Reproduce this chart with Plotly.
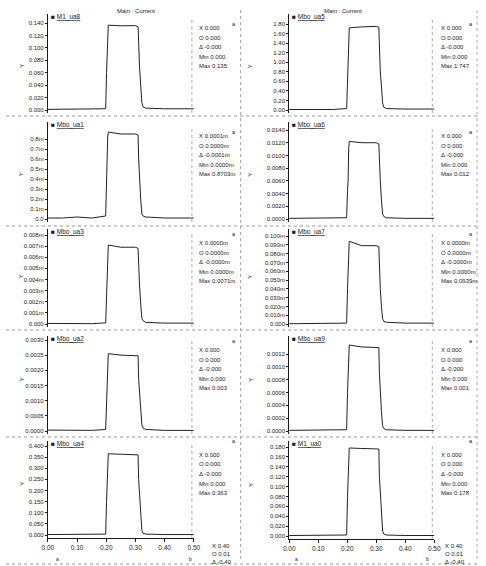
import plotly.graph_objects as go

# ---------------- data ----------------
t = [0.000, 0.050, 0.100, 0.150, 0.198, 0.201, 0.203, 0.205, 0.207, 0.250,
     0.300, 0.309, 0.311, 0.314, 0.318, 0.322, 0.326, 0.335, 0.400, 0.500]

m1_ua8 = [0.001, 0.001, 0.0008, 0.0008, 0.002, 0.060, 0.090, 0.128, 0.1365, 0.1355,
          0.1358, 0.134, 0.095, 0.070, 0.040, 0.012, 0.005, 0.003, 0.002, 0.002]
mbo_ua5 = [0.01, 0.01, 0.01, 0.01, 0.03, 0.60, 0.85, 1.65, 1.72, 1.74,
           1.75, 1.73, 1.20, 0.80, 0.50, 0.15, 0.06, 0.03, 0.02, 0.02]
mbo_ua1 = [0.00001, 0.00001, 0.00002, 0.00001, 0.00003, 0.00045, 0.00060, 0.00082, 0.00087, 0.00085,
           0.00085, 0.00084, 0.00060, 0.00040, 0.00020, 0.00005, 0.00003, 0.00002, 0.00001, 0.00001]
mbo_ua6 = [0.0001, 0.0001, 0.0001, 0.0001, 0.0002, 0.0045, 0.0060, 0.0110, 0.0122, 0.0120,
           0.0120, 0.0118, 0.0080, 0.0060, 0.0030, 0.0008, 0.0004, 0.0002, 0.0001, 0.0001]
mbo_ua3 = [0.05e-6, 0.05e-6, 0.03e-6, 0.03e-6, 0.1e-6, 3.0e-6, 4.5e-6, 6.6e-6, 7.1e-6, 6.9e-6,
           6.9e-6, 6.8e-6, 5.0e-6, 3.5e-6, 1.8e-6, 0.5e-6, 0.3e-6, 0.15e-6, 0.08e-6, 0.08e-6]
mbo_ua7 = [0.3e-6, 0.3e-6, 0.3e-6, 0.3e-6, 1e-6, 40e-6, 60e-6, 85e-6, 94e-6, 89e-6,
           89e-6, 88e-6, 60e-6, 40e-6, 20e-6, 6e-6, 3e-6, 2e-6, 1e-6, 1e-6]
mbo_ua2 = [0.00003, 0.00003, 0.00002, 0.00002, 0.00005, 0.0012, 0.0017, 0.0024, 0.00255, 0.0025,
           0.0025, 0.00248, 0.0017, 0.0013, 0.0008, 0.0002, 0.0001, 0.00005, 0.00002, 0.00002]
mbo_ua9 = [0.00001, 0.00001, 0.00001, 0.00001, 0.00002, 0.0006, 0.0009, 0.00125, 0.00134, 0.00131,
           0.00131, 0.0013, 0.0009, 0.0006, 0.0003, 0.00008, 0.00004, 0.00002, 0.00001, 0.00001]
mbo_ua4 = [0.002, 0.002, 0.002, 0.002, 0.004, 0.150, 0.250, 0.350, 0.365, 0.363,
           0.363, 0.360, 0.250, 0.180, 0.090, 0.020, 0.008, 0.004, 0.002, 0.002]
m1_ua0 = [0.001, 0.001, 0.001, 0.001, 0.002, 0.080, 0.120, 0.170, 0.178, 0.177,
          0.177, 0.176, 0.120, 0.090, 0.045, 0.010, 0.004, 0.002, 0.001, 0.001]

names = ["M1_ua8", "Mbo_ua5", "Mbo_ua1", "Mbo_ua6", "Mbo_ua3",
         "Mbo_ua7", "Mbo_ua2", "Mbo_ua9", "Mbo_ua4", "M1_ua0"]

tick_p1 = [0.0, 0.02, 0.04, 0.06, 0.08, 0.10, 0.12, 0.14]
lab_p1 = ["0.000", "0.020", "0.040", "0.060", "0.080", "0.100", "0.120", "0.140"]
tick_p2 = [0.0, 0.2, 0.4, 0.6, 0.8, 1.0, 1.2, 1.4, 1.6, 1.8]
lab_p2 = ["0.00", "0.20", "0.40", "0.60", "0.80", "1.00", "1.20", "1.40", "1.60", "1.80"]
tick_p3 = [0.0, 0.0001, 0.0002, 0.0003, 0.0004, 0.0005, 0.0006, 0.0007, 0.0008]
lab_p3 = ["0.0", "0.1m", "0.2m", "0.3m", "0.4m", "0.5m", "0.6m", "0.7m", "0.8m"]
tick_p4 = [0.0, 0.002, 0.004, 0.006, 0.008, 0.010, 0.012, 0.014]
lab_p4 = ["0.0000", "0.0020", "0.0040", "0.0060", "0.0080", "0.0100", "0.0120", "0.0140"]
tick_p5 = [0.0, 1e-6, 2e-6, 3e-6, 4e-6, 5e-6, 6e-6, 7e-6, 8e-6]
lab_p5 = ["0.000", "0.001m", "0.002m", "0.003m", "0.004m", "0.005m", "0.006m", "0.007m", "0.008m"]
tick_p6 = [0.0, 1e-5, 2e-5, 3e-5, 4e-5, 5e-5, 6e-5, 7e-5, 8e-5, 9e-5, 1e-4]
lab_p6 = ["0.000", "0.010m", "0.020m", "0.030m", "0.040m", "0.050m", "0.060m",
          "0.070m", "0.080m", "0.090m", "0.100m"]
tick_p7 = [0.0, 0.0005, 0.0010, 0.0015, 0.0020, 0.0025, 0.0030]
lab_p7 = ["0.0000", "0.0005", "0.0010", "0.0015", "0.0020", "0.0025", "0.0030"]
tick_p8 = [0.0, 0.0002, 0.0004, 0.0006, 0.0008, 0.0010, 0.0012]
lab_p8 = ["0.0000", "0.0002", "0.0004", "0.0006", "0.0008", "0.0010", "0.0012"]
tick_p9 = [0.0, 0.05, 0.10, 0.15, 0.20, 0.25, 0.30, 0.35, 0.40]
lab_p9 = ["0.000", "0.050", "0.100", "0.150", "0.200", "0.250", "0.300", "0.350", "0.400"]
tick_p10 = [0.0, 0.02, 0.04, 0.06, 0.08, 0.10, 0.12, 0.14, 0.16, 0.18]
lab_p10 = ["0.000", "0.020", "0.040", "0.060", "0.080", "0.100", "0.120", "0.140", "0.160", "0.180"]

x_ticks = [0.0, 0.1, 0.2, 0.3, 0.4, 0.5]
x_labels = ["0.00", "0.10", "0.20", "0.30", "0.40", "0.50"]

readouts = [
    ["X 0.000", "O 0.000", "Δ -0.000", "Min 0.000", "Max 0.135"],
    ["X 0.000", "O 0.000", "Δ -0.000", "Min 0.000", "Max 1.747"],
    ["X 0.0001m", "O 0.0000m", "Δ -0.0001m", "Min 0.0000m", "Max 0.8703m"],
    ["X 0.000", "O 0.000", "Δ -0.000", "Min 0.000", "Max 0.012"],
    ["X 0.0000m", "O 0.0000m", "Δ -0.0000m", "Min 0.0000m", "Max 0.0071m"],
    ["X 0.0000m", "O 0.0000m", "Δ -0.0000m", "Min 0.0000m", "Max 0.0939m"],
    ["X 0.000", "O 0.000", "Δ -0.000", "Min 0.000", "Max 0.003"],
    ["X 0.000", "O 0.000", "Δ -0.000", "Min 0.000", "Max 0.001"],
    ["X 0.000", "O 0.000", "Δ -0.000", "Min 0.000", "Max 0.363"],
    ["X 0.000", "O 0.000", "Δ -0.000", "Min 0.000", "Max 0.178"],
]
cursor_text = ["X 0.40", "O 0.01", "Δ -0.40"]

series = [m1_ua8, mbo_ua5, mbo_ua1, mbo_ua6, mbo_ua3, mbo_ua7, mbo_ua2, mbo_ua9, mbo_ua4, m1_ua0]
ticks = [tick_p1, tick_p2, tick_p3, tick_p4, tick_p5, tick_p6, tick_p7, tick_p8, tick_p9, tick_p10]
labels = [lab_p1, lab_p2, lab_p3, lab_p4, lab_p5, lab_p6, lab_p7, lab_p8, lab_p9, lab_p10]

# ---------------- layout geometry (pixels) ----------------
W, H = 486, 566
FONT = "Liberation Sans"
NARROW = "Liberation Sans Narrow, Liberation Sans"
INK = "#1a1a1a"
col_x = [(43, 193), (291, 440)]
# (zero pixel, top-tick pixel, domain top pixel) for each panel
geom = [
    (110, 23, 14), (110, 24, 14),
    (219, 139, 122), (219, 130, 122),
    (324, 235, 229), (324, 236, 229),
    (431, 340, 336), (431, 354, 336),
    (535, 446, 441), (536, 447, 441),
]

def px(x):
    return x / W

def py(y):
    return 1 - y / H

fig = go.Figure()
annotations = []
shapes = []

for i in range(10):
    col = i % 2
    row = i // 2
    n = i + 1
    xa = "x" if n == 1 else f"x{n}"
    ya = "y" if n == 1 else f"y{n}"
    fig.add_trace(go.Scatter(x=t, y=series[i], mode="lines",
                             line=dict(color="#222", width=1),
                             xaxis=xa, yaxis=ya, showlegend=False, hoverinfo="skip"))
    zero_px, tt_px, top_px = geom[i]
    bot_px = zero_px + 3
    T = ticks[i][-1]
    s = T / (zero_px - tt_px)
    rmin = -(bot_px - zero_px) * s
    rmax = T + (tt_px - top_px) * s
    x0, x1 = col_x[col]
    last = row == 4
    fig.layout[f"xaxis{'' if n == 1 else n}"] = dict(
        domain=[px(x0), px(x1)], range=[0, 0.5], anchor=ya,
        showgrid=False, zeroline=False,
        showline=last, linecolor=INK, linewidth=1,
        tickvals=x_ticks, ticktext=x_labels, showticklabels=last,
        ticks="outside" if last else "", ticklen=3, tickcolor=INK,
        tickfont=dict(family=FONT, size=6.5, color=INK))
    fig.layout[f"yaxis{'' if n == 1 else n}"] = dict(
        domain=[py(bot_px), py(top_px)], range=[rmin, rmax], anchor=xa,
        showgrid=False, zeroline=False, showline=True, linecolor=INK, linewidth=1,
        tickvals=ticks[i], ticktext=labels[i], ticks="outside", ticklen=2,
        tickcolor=INK, tickfont=dict(family=NARROW, size=6, color=INK))

    # series label
    annotations.append(dict(x=px(x0 + 1), y=py(top_px + 3), xref="paper", yref="paper",
                            text=f"■ <u>{names[i]}</u>", showarrow=False,
                            xanchor="left", yanchor="middle",
                            font=dict(family=NARROW, size=6.5, color=INK)))
    # y title
    ytx = 11 if col == 0 else 251
    annotations.append(dict(x=px(ytx), y=py((top_px + zero_px) / 2), xref="paper", yref="paper",
                            text="Y", showarrow=False, textangle=-90,
                            font=dict(family=FONT, size=6, color=INK)))
    # readouts
    rx = 196 if col == 0 else 445
    for k, txt in enumerate(readouts[i]):
        annotations.append(dict(x=px(rx), y=py(top_px + 14 + k * 9.5), xref="paper", yref="paper",
                                text=txt, showarrow=False, xanchor="left", yanchor="middle",
                                font=dict(family=NARROW, size=6, color=INK)))
    # small corner mark
    annotations.append(dict(x=px(234 if col == 0 else 482), y=py(top_px + 5), xref="paper",
                            yref="paper", text="a", showarrow=False,
                            font=dict(family=FONT, size=5.5, color=INK)))
    # dotted cursor line near right end
    shapes.append(dict(type="line", xref="paper", yref="paper",
                       x0=px(x1 - 2), x1=px(x1 - 2), y0=py(bot_px), y1=py(top_px + 4),
                       line=dict(color="#aaa", width=1, dash="dot")))

# row separators
for ysep in [116, 226, 330, 437]:
    shapes.append(dict(type="line", xref="paper", yref="paper", x0=0, x1=1,
                       y0=py(ysep), y1=py(ysep), line=dict(color="#999", width=1, dash="dot")))
# column separators
for xsep in [241, 484]:
    shapes.append(dict(type="line", xref="paper", yref="paper", x0=px(xsep), x1=px(xsep),
                       y0=py(10), y1=py(562), line=dict(color="#aaa", width=1, dash="dot")))
shapes.append(dict(type="line", xref="paper", yref="paper", x0=0, x1=1,
                   y0=py(564), y1=py(564), line=dict(color="#999", width=1, dash="dot")))

# titles
for tx in [112, 368]:
    annotations.append(dict(x=px(tx), y=py(6), xref="paper", yref="paper",
                            text="Main : Current", showarrow=False,
                            font=dict(family=NARROW, size=6, color=INK)))

# bottom cursor readouts
for cx in [210, 449]:
    for k, txt in enumerate(cursor_text):
        annotations.append(dict(x=px(cx), y=py(546 + k * 8), xref="paper", yref="paper",
                                text=txt, showarrow=False, xanchor="left", yanchor="middle",
                                font=dict(family=NARROW, size=6, color=INK)))
for cx, lab in [(49, "a"), (190, "b"), (298, "a"), (437, "b")]:
    annotations.append(dict(x=px(cx), y=py(559), xref="paper", yref="paper",
                            text=lab, showarrow=False, yanchor="middle",
                            font=dict(family=FONT, size=5, color=INK)))

fig.update_layout(width=W, height=H, margin=dict(l=0, r=0, t=0, b=0),
                  paper_bgcolor="white", plot_bgcolor="white",
                  annotations=annotations, shapes=shapes)

fig.write_html("out.html", config={"displayModeBar": False},
               post_script="document.body.style.margin='0';document.body.style.overflow='hidden';")
